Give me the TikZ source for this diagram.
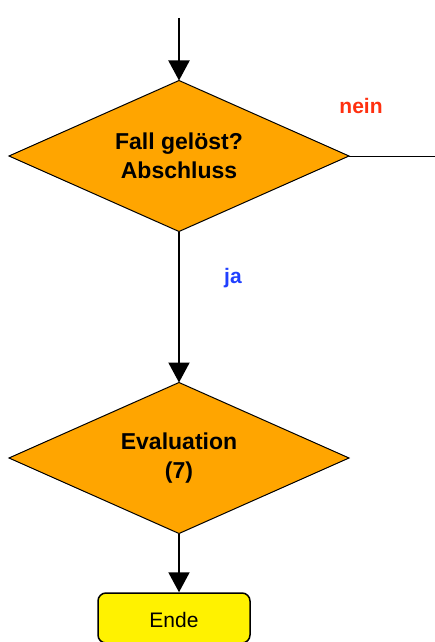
\documentclass[tikz,border=0pt]{standalone}
\usepackage{fontspec}
\setmainfont{Liberation Sans}
\usetikzlibrary{shapes.geometric,arrows.meta}
\definecolor{decisionorange}{RGB}{255,165,0}
\definecolor{neinred}{RGB}{255,48,16}
\definecolor{jablue}{RGB}{32,64,255}
\begin{document}
\begin{tikzpicture}[x=1pt, y=-1pt,
        decision/.style={diamond, draw, line width=1pt, fill=decisionorange, shape aspect=2.25, minimum width=340pt, minimum height=151pt, inner sep=0pt, outer sep=0pt, align=center, font=\fontsize{23}{29}\selectfont\bfseries},
        terminal/.style={rectangle, draw, line width=1.5pt, fill=yellow, rounded corners=8pt, minimum width=152pt, minimum height=50pt, text height=22pt, text depth=4pt, font=\fontsize{21}{24}\selectfont},
        answer/.style={font=\fontsize{21}{24}\selectfont\bfseries},
        arrow/.style={-{Triangle[length=20pt,width=21pt]}, line width=2pt}
    ]
        \useasboundingbox (0,0) rectangle (435,642);

        % Decisions
        \node[decision] (fall) at (179,156) {Fall gelöst?\\Abschluss};
        \node[decision] (eval) at (179,458) {Evaluation\\(7)};

        % End
        \node[terminal] (ende) at (174,618) {Ende};

        % Answers
        \node[answer, text=neinred] (nein) at (361,106) {nein};
        \node[answer, text=jablue] (ja) at (233,278) {ja};

        % Free ends
        \coordinate (start) at (179,18);
        \coordinate (exit) at (435,156);

        % Arrows
        \draw[arrow] (start) -- (fall.north);
        \draw[arrow] (fall.south) -- (eval.north);
        \draw[arrow] (eval.south) -- (eval.south |- ende.north);
        \draw[line width=1pt] (fall.east) -- (exit);
    \end{tikzpicture}
\end{document}
